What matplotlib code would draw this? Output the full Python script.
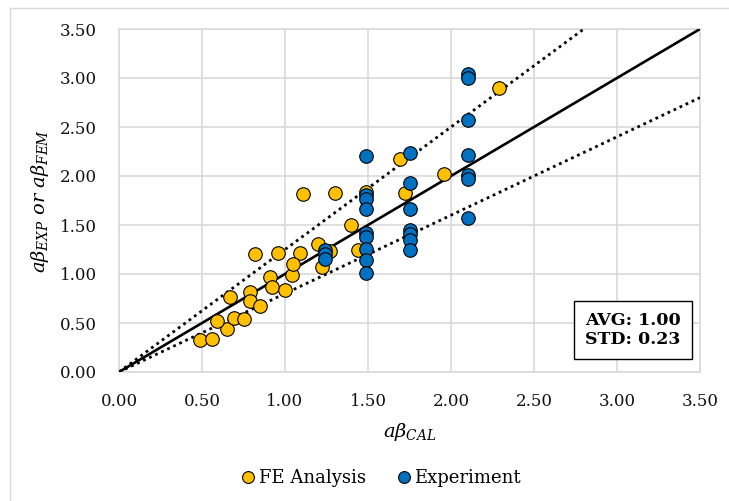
import matplotlib
matplotlib.use('Agg')
import matplotlib.pyplot as plt
from matplotlib.lines import Line2D

plt.rcParams['font.family'] = ['DejaVu Serif']
plt.rcParams['mathtext.fontset'] = 'dejavuserif'

# ---- data ----
fe_x = [0.49, 0.56, 0.65, 0.59, 0.69, 0.75, 0.67, 0.79, 0.79, 0.85,
        0.82, 0.96, 1.09, 0.91, 0.92, 1.00, 1.04, 1.05, 1.11, 1.30,
        1.20, 1.27, 1.22, 1.40, 1.44, 1.49, 1.69, 1.72, 1.96, 2.29]
fe_y = [0.33, 0.34, 0.44, 0.52, 0.55, 0.54, 0.77, 0.82, 0.72, 0.67,
        1.20, 1.21, 1.21, 0.97, 0.87, 0.84, 0.99, 1.10, 1.82, 1.83,
        1.31, 1.23, 1.07, 1.50, 1.24, 1.84, 2.17, 1.83, 2.02, 2.90]

exp_x = [1.24, 1.24, 1.24,
         1.49, 1.49, 1.49, 1.49, 1.49, 1.49, 1.49, 1.49, 1.49,
         1.75, 1.75, 1.75, 1.75, 1.75, 1.75, 1.75,
         2.10, 2.10, 2.10, 2.10, 2.10, 2.10, 2.10]
exp_y = [1.25, 1.20, 1.15,
         2.20, 1.81, 1.77, 1.66, 1.42, 1.38, 1.26, 1.14, 1.01,
         2.23, 1.93, 1.66, 1.45, 1.41, 1.35, 1.25,
         3.04, 3.00, 2.57, 2.21, 2.01, 1.97, 1.57]

ticks = [0.0, 0.5, 1.0, 1.5, 2.0, 2.5, 3.0, 3.5]
avg_txt = 'AVG: 1.00'
std_txt = 'STD: 0.23'

yellow = '#FFC000'
blue = '#0070C0'
grid_c = '#D9D9D9'

fig = plt.figure(figsize=(7.29, 5.01), dpi=100)
ax = fig.add_axes([119 / 729, 1 - 372 / 501, 581 / 729, 343 / 501])

# reference lines: 1:1 and +/- bands
ax.plot([0, 3.5], [0, 3.5], color='black', lw=1.9, zorder=3)
ax.plot([0, 2.8], [0, 3.5], color='black', lw=2, ls=(0, (1, 1.4)), zorder=3)
ax.plot([0, 3.5], [0, 2.8], color='black', lw=2, ls=(0, (1, 1.4)), zorder=3)

ax.scatter(fe_x, fe_y, s=95, color=yellow, edgecolor='black', linewidth=0.8, zorder=4)
ax.scatter(exp_x, exp_y, s=95, color=blue, edgecolor='black', linewidth=0.8, zorder=5)

ax.set_xlim(0, 3.5)
ax.set_ylim(0, 3.5)
ax.set_xticks(ticks)
ax.set_yticks(ticks)
ax.set_xticklabels([f'{t:.2f}' for t in ticks])
ax.set_yticklabels([f'{t:.2f}' for t in ticks])
ax.tick_params(length=0, labelsize=12, colors='#111111')
ax.tick_params(axis='y', pad=16)
ax.tick_params(axis='x', pad=15)
ax.grid(True, color=grid_c, lw=1.2, zorder=0)
ax.set_axisbelow(True)
for s in ax.spines.values():
    s.set_color(grid_c)
    s.set_linewidth(1.2)

ax.set_xlabel(r'$a\beta_{CAL}$', fontsize=14, labelpad=8)
ax.set_ylabel(r'$a\beta_{EXP}\ or\ a\beta_{FEM}$', fontsize=14, labelpad=6)

ax.text(0.885, 0.122, avg_txt + '\n' + std_txt, transform=ax.transAxes,
        ha='center', va='center', fontsize=12.5, fontweight='bold',
        linespacing=1.15, zorder=6,
        bbox=dict(boxstyle='square,pad=0.65', facecolor='white',
                  edgecolor='black', linewidth=1))

handles = [
    Line2D([], [], marker='o', ls='none', markersize=8.5, markerfacecolor=yellow,
           markeredgecolor='black', markeredgewidth=0.8, label='FE Analysis'),
    Line2D([], [], marker='o', ls='none', markersize=8.5, markerfacecolor=blue,
           markeredgecolor='black', markeredgewidth=0.8, label='Experiment'),
]
fig.legend(handles=handles, loc='center', bbox_to_anchor=(380 / 729, 1 - 478 / 501),
           ncol=2, frameon=False, fontsize=13, handletextpad=0.1,
           columnspacing=1.6, handlelength=1.0)

# outer chart border (only left and top visible in the reference)
fig.add_artist(Line2D([10 / 729, 10 / 729], [0, 1 - 8 / 501], color=grid_c,
                      lw=1, transform=fig.transFigure))
fig.add_artist(Line2D([10 / 729, 1], [1 - 8 / 501, 1 - 8 / 501], color=grid_c,
                      lw=1, transform=fig.transFigure))

fig.savefig('out.png', dpi=100)
